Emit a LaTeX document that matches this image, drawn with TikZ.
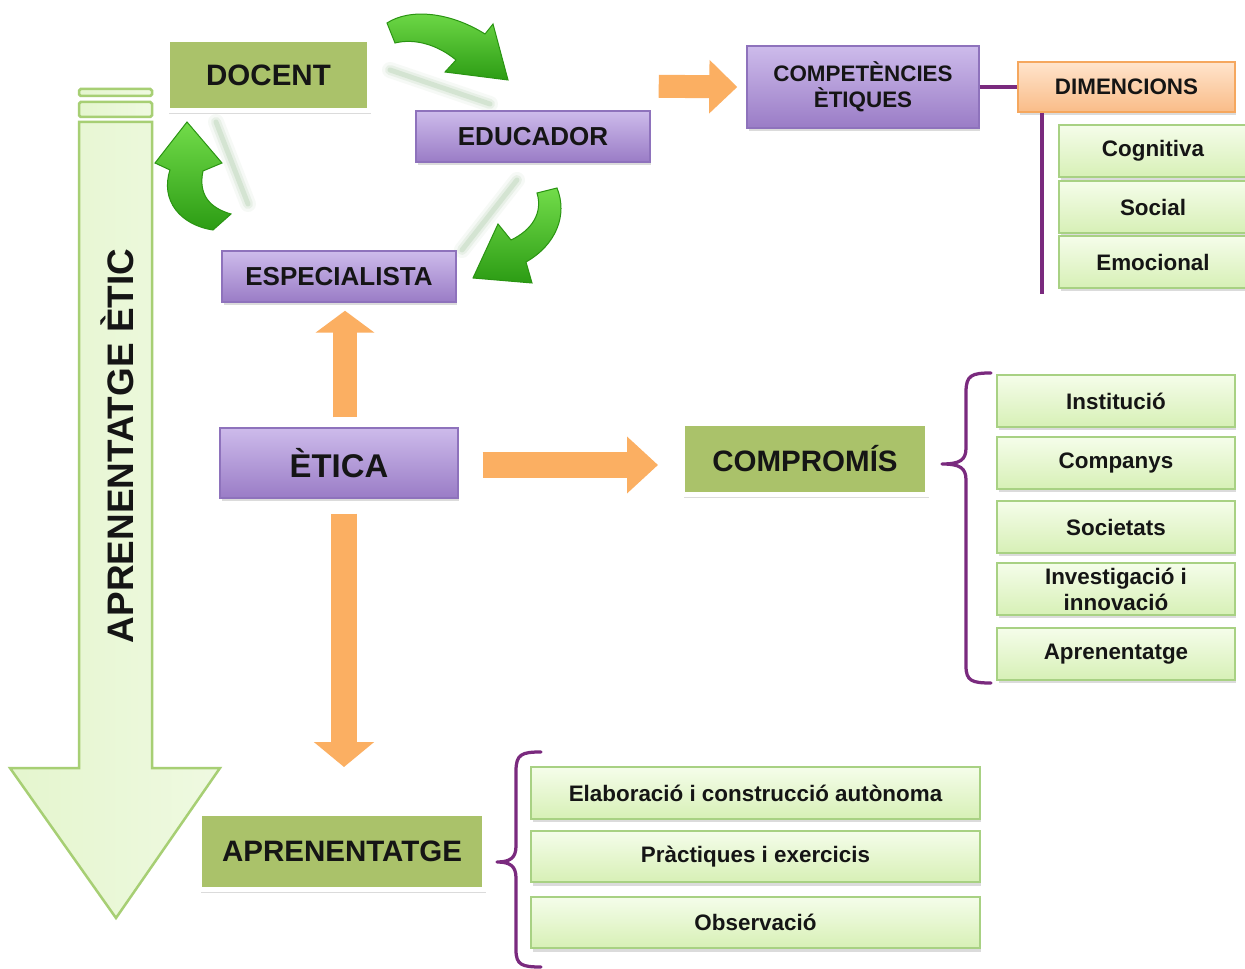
\documentclass[tikz,border=0pt]{standalone}
\usepackage{fontspec}
\setmainfont{Liberation Sans}
\usetikzlibrary{arrows.meta,shadows,calc}

\definecolor{olivebox}{HTML}{AAC26A}
\definecolor{purptop}{HTML}{CDBBEB}
\definecolor{purpbot}{HTML}{9A7CC6}
\definecolor{purpline}{HTML}{8E72BC}
\definecolor{lgtop}{HTML}{F5FDEA}
\definecolor{lgbot}{HTML}{D7F0B6}
\definecolor{lgline}{HTML}{A8D183}
\definecolor{ortop}{HTML}{FFE4CC}
\definecolor{orbot}{HTML}{F9BC88}
\definecolor{orline}{HTML}{F5A75E}
\definecolor{blockorange}{HTML}{FBAF62}
\definecolor{bracepurple}{HTML}{7A2A7E}
\definecolor{bigfill}{HTML}{E8F7D4}
\definecolor{bigline}{HTML}{A7CF74}
\definecolor{gtop}{HTML}{72DC4A}
\definecolor{gbot}{HTML}{2C9C14}
\definecolor{gedge}{HTML}{2A9412}
\definecolor{ghost}{HTML}{6FA86A}
\definecolor{ink}{HTML}{151515}

\begin{document}
\begin{tikzpicture}[x=0.02cm,y=-0.02cm,
  every node/.style={text=ink, inner sep=0pt, align=center},
  fs/.style={font=\fontsize{12.75pt}{14.7pt}\selectfont\bfseries},
  fm/.style={font=\fontsize{14.8pt}{17pt}\selectfont\bfseries},
  fl/.style={font=\fontsize{16.8pt}{19pt}\selectfont\bfseries},
  fx/.style={font=\fontsize{18.7pt}{21pt}\selectfont\bfseries},
  fv/.style={font=\fontsize{21pt}{24pt}\selectfont\bfseries},
  softshadow/.style={drop shadow={opacity=0.28, shadow xshift=0.03cm, shadow yshift=-0.07cm}},
  olive/.style={fill=olivebox, draw=white, line width=0.1cm, softshadow},
  purple/.style={top color=purptop, bottom color=purpbot, draw=purpline, line width=0.03cm, softshadow},
  lgreen/.style={top color=lgtop, bottom color=lgbot, draw=lgline, line width=0.04cm, softshadow, fs},
  dimbox/.style={top color=ortop, bottom color=orbot, draw=orline, line width=0.04cm, softshadow},
  blockarrow/.style={draw=blockorange, line cap=butt},
  brace/.style={draw=bracepurple, line width=0.065cm, line cap=round, line join=round},
  pline/.style={draw=bracepurple, line width=0.065cm},
  cyclearrow/.style={top color=gtop, bottom color=gbot, draw=gedge, line width=0.02cm},
  bigarrow/.style={left color=bigfill!80!lgbot, right color=bigfill!70!white, draw=bigline, line width=0.05cm}
]
\fill[white] (0,0) rectangle (1245,969);
\useasboundingbox (0,0) rectangle (1245,969);

% ---- large downward arrow on the left ----
\draw[bigarrow, rounded corners=1] (79,89) rectangle (152,96);
\draw[bigarrow, rounded corners=1] (79,102) rectangle (152,117);
\draw[bigarrow] (79,122) -- (152,122) -- (152,768) -- (220,768) -- (116,918)
  -- (10,768) -- (79,768) -- cycle;
\node[fv, rotate=90] (etic) at (117,446) {APRENENTATGE ÈTIC};

% ---- faint trails behind the cycle arrows ----
\foreach \w/\o in {16/0.06, 10/0.10, 5/0.16} {
  \draw[ghost, line width=\w*0.02cm, draw opacity=\o, line cap=round] (390,70) -- (490,104);
  \draw[ghost, line width=\w*0.02cm, draw opacity=\o, line cap=round] (517,180) -- (462,250);
  \draw[ghost, line width=\w*0.02cm, draw opacity=\o, line cap=round] (216,122) -- (248,204);
}

% ---- boxes ----
\node[olive, fl, minimum width=4.04cm, minimum height=1.42cm] (docent) at (268.5,75) {DOCENT};
\node[purple, fm, minimum width=4.68cm, minimum height=1.02cm] (educador) at (533,136.5) {EDUCADOR};
\node[purple, fm, minimum width=4.68cm, minimum height=1.02cm] (espec) at (339,276.5) {ESPECIALISTA};
\node[purple, fx, minimum width=4.76cm, minimum height=1.4cm] (etica) at (339,463) {ÈTICA};
\node[purple, fs, minimum width=4.64cm, minimum height=1.64cm] (compet) at (863,87) {COMPETÈNCIES\\ÈTIQUES};
\node[dimbox, fs, minimum width=4.34cm, minimum height=1.0cm] (dimen) at (1126.5,87) {DIMENCIONS};

\node[lgreen, minimum width=3.76cm, minimum height=1.04cm] (cogn) at (1153,151) {Cognitiva};
\node[lgreen, minimum width=3.76cm, minimum height=1.04cm] (soc) at (1153,207) {Social};
\node[lgreen, minimum width=3.76cm, minimum height=1.04cm] (emo) at (1153,262) {Emocional};

\node[olive, fl, minimum width=4.9cm, minimum height=1.42cm] (comp) at (805,459) {COMPROMÍS};
\node[lgreen, minimum width=4.76cm, minimum height=1.04cm] (inst) at (1116,401) {Institució};
\node[lgreen, minimum width=4.76cm, minimum height=1.04cm] (comps) at (1116,463) {Companys};
\node[lgreen, minimum width=4.76cm, minimum height=1.04cm] (socs) at (1116,527) {Societats};
\node[lgreen, minimum width=4.76cm, minimum height=1.04cm] (inv) at (1116,589) {Investigació i\\innovació};
\node[lgreen, minimum width=4.76cm, minimum height=1.04cm] (aprc) at (1116,654) {Aprenentatge};

\node[olive, fl, minimum width=5.7cm, minimum height=1.52cm] (apren) at (342,851.5) {APRENENTATGE};
\node[lgreen, minimum width=8.98cm, minimum height=1.04cm] (elab) at (755.5,793) {Elaboració i construcció autònoma};
\node[lgreen, minimum width=8.98cm, minimum height=1.04cm] (prac) at (755.5,856.5) {Pràctiques i exercicis};
\node[lgreen, minimum width=8.98cm, minimum height=1.04cm] (obs) at (755.5,922.5) {Observació};

% ---- orange block arrows ----
\draw[blockarrow, line width=0.48cm, -{Triangle[width=1.16cm,length=0.44cm]}]
  ($(etica.north)+(6,-10)$) -- ($(espec.south)+(6,8)$);
\draw[blockarrow, line width=0.52cm, -{Triangle[width=1.1cm,length=0.62cm]}]
  ($(etica.east)+(24,2)$) -- ($(comp.west)+(-22,6)$);
\draw[blockarrow, line width=0.46cm, -{Triangle[width=1.04cm,length=0.56cm]}]
  ($(educador.north east)+(8,-24)$) -- ($(compet.west)+(-9,0)$);
\draw[blockarrow, line width=0.52cm, -{Triangle[width=1.18cm,length=0.5cm]}]
  ($(etica.south)+(5,15)$) -- ($(apren.north)+(2,-44)$);

% ---- purple connectors and braces ----
\draw[pline] (compet.east) -- (dimen.west);
\coordinate (dimfoot) at ($(dimen.south west)+(25,0)$);
\draw[pline] (dimfoot) -- ++(0,181);

\coordinate (tipc) at (942,464);
\draw[brace] (991,373) .. controls (972,373) and (966,375) .. (966,392) -- (966,448)
  .. controls (966,460) and (960,464) .. (tipc)
  .. controls (960,464) and (966,468) .. (966,480) -- (966,666)
  .. controls (966,681) and (972,683) .. (991,683);

\coordinate (tipa) at (497,862);
\draw[brace] (541,752) .. controls (522,752) and (516,754) .. (516,771) -- (516,846)
  .. controls (516,858) and (510,862) .. (tipa)
  .. controls (510,862) and (516,866) .. (516,878) -- (516,950)
  .. controls (516,965) and (522,967) .. (541,967);

% ---- green cycle arrows ----
\draw[cyclearrow] (387,23) .. controls (410,8) and (450,12) .. (485,34) -- (493,24)
  -- (508,80) -- (445,72) -- (456,60) .. controls (438,45) and (415,38) .. (395,43) -- cycle;
\draw[cyclearrow] (537,193) -- (557,188) .. controls (568,215) and (556,245) .. (526,262)
  -- (532,283) -- (473,278) -- (498,224) -- (511,240)
  .. controls (532,230) and (543,213) .. (537,193) -- cycle;
\draw[cyclearrow] (187,122) -- (222,163) -- (203,171) .. controls (198,195) and (210,208) .. (231,214)
  -- (213,230) .. controls (180,225) and (160,200) .. (170,170) -- (155,163) -- cycle;
\end{tikzpicture}
\end{document}
